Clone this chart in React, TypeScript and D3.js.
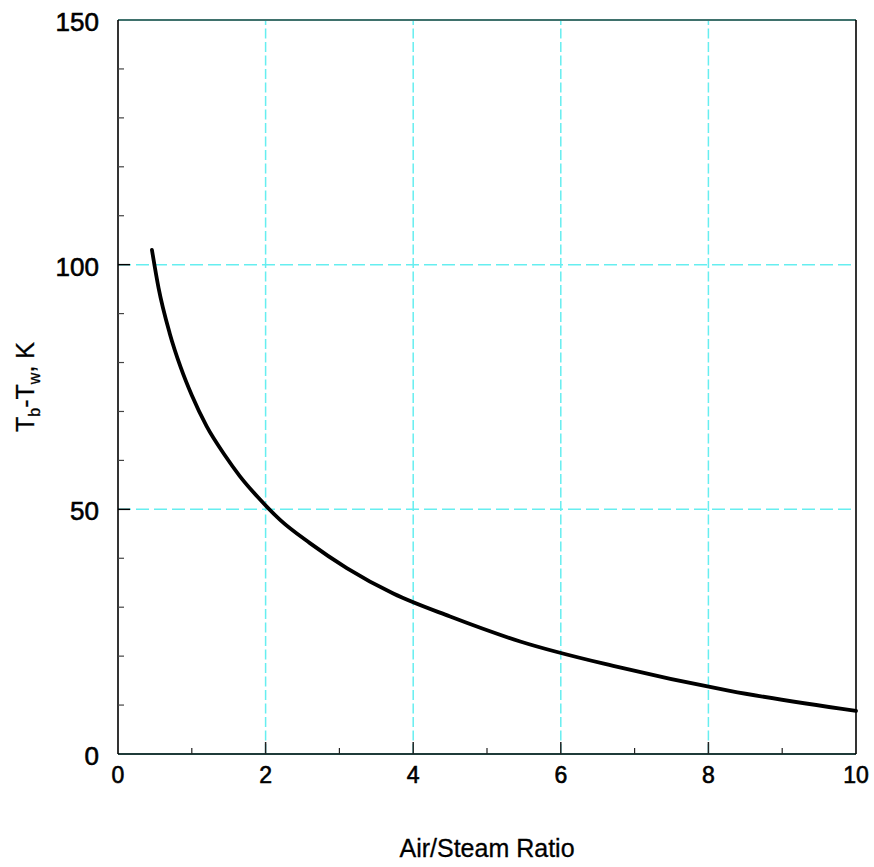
import React from "react";
import * as d3 from "d3";

// Temperature difference vs. air/steam ratio
const ratio = [0.46, 0.55, 0.7, 0.85, 1.0, 1.2, 1.45, 1.65, 1.9, 2.2, 2.6, 3.1, 3.73, 4.5, 5.45, 6.71, 8.29, 10.0];
const deltaT = [103, 95.2, 86, 79, 73.3, 67, 61, 56.8, 52.4, 47.8, 43.1, 38.0, 32.8, 28.1, 23.0, 18.0, 12.9, 8.8];

const xTickLabels = [0, 2, 4, 6, 8, 10];
const yTickLabels = [0, 50, 100, 150];
const xMinorTicks = [1, 3, 5, 7, 9];
const yMinorTicks = [10, 20, 30, 40, 60, 70, 80, 90, 110, 120, 130, 140];
const xGrid = [2, 4, 6, 8];
const yGrid = [50, 100];

const W = 874;
const H = 867;
const left = 118;
const right = 856;
const top = 20;
const bottom = 754;

const FONT = "'Liberation Sans', Arial, Helvetica, sans-serif";
const GRID = "#66eef0";

export default function App() {
  const x = d3.scaleLinear().domain([0, 10]).range([left, right]);
  const y = d3.scaleLinear().domain([0, 150]).range([bottom, top]);
  const pts: [number, number][] = ratio.map((r, i) => [r, deltaT[i]]);
  const line = d3
    .line<[number, number]>()
    .x((d) => x(d[0]))
    .y((d) => y(d[1]))
    .curve(d3.curveMonotoneX);

  const textStroke = { stroke: "#000", strokeWidth: 0.6 };

  return (
    <svg
      width={W}
      height={H}
      viewBox={`0 0 ${W} ${H}`}
      style={{ position: "absolute", left: 0, top: 0, background: "#fff" }}
    >
      {/* grid */}
      {xGrid.map((v) => (
        <line key={"gx" + v} x1={x(v)} x2={x(v)} y1={y(0)} y2={y(150)} stroke={GRID} strokeWidth={1.5} strokeDasharray="10,3.5" />
      ))}
      {yGrid.map((v) => (
        <line key={"gy" + v} x1={x(0)} x2={x(10)} y1={y(v)} y2={y(v)} stroke={GRID} strokeWidth={1.5} strokeDasharray="13,5" />
      ))}

      {/* frame */}
      <line x1={left} x2={right} y1={top} y2={top} stroke="#3f716c" strokeWidth={2} />
      <line x1={left} x2={right} y1={bottom} y2={bottom} stroke="#1f3b39" strokeWidth={2} />
      <line x1={left} x2={left} y1={top} y2={bottom} stroke="#000" strokeWidth={1.6} />
      <line x1={right} x2={right} y1={top} y2={bottom} stroke="#000" strokeWidth={1.6} />

      {/* ticks */}
      {yMinorTicks.map((v) => (
        <line key={"ym" + v} x1={left} x2={left + 6} y1={y(v)} y2={y(v)} stroke="#444" strokeWidth={1.2} />
      ))}
      {yGrid.map((v) => (
        <line key={"yM" + v} x1={left} x2={left + 12} y1={y(v)} y2={y(v)} stroke="#000" strokeWidth={1.5} />
      ))}
      {xMinorTicks.map((v) => (
        <line key={"xm" + v} x1={x(v)} x2={x(v)} y1={bottom} y2={bottom - 6} stroke="#222" strokeWidth={1.2} />
      ))}
      {xGrid.map((v) => (
        <line key={"xM" + v} x1={x(v)} x2={x(v)} y1={bottom} y2={bottom - 12} stroke="#222" strokeWidth={1.5} />
      ))}

      {/* curve */}
      <path d={line(pts) ?? ""} fill="none" stroke="#000" strokeWidth={3.8} strokeLinecap="round" strokeLinejoin="round" />

      {/* tick labels */}
      {xTickLabels.map((v) => (
        <text key={"xl" + v} x={x(v)} y={783} textAnchor="middle" fontFamily={FONT} fontSize={23} fill="#000" {...textStroke}>
          {v}
        </text>
      ))}
      {yTickLabels.map((v) => (
        <text key={"yl" + v} x={99} y={y(v) + 11} textAnchor="end" fontFamily={FONT} fontSize={26} fill="#000" {...textStroke}>
          {v}
        </text>
      ))}

      {/* axis titles */}
      <text x={487} y={857} textAnchor="middle" fontFamily={FONT} fontSize={25} fill="#000" stroke="#000" strokeWidth={0.3}>
        Air/Steam Ratio
      </text>
      <text
        transform={`translate(34, 387) rotate(-90)`}
        textAnchor="middle"
        fontFamily={FONT}
        fontSize={25}
        fill="#000"
        stroke="#000"
        strokeWidth={0.3}
      >
        T<tspan fontSize={16} dy={6}>b</tspan>
        <tspan dy={-6}>-T</tspan>
        <tspan fontSize={16} dy={6}>w</tspan>
        <tspan dy={-6}>, K</tspan>
      </text>
    </svg>
  );
}
